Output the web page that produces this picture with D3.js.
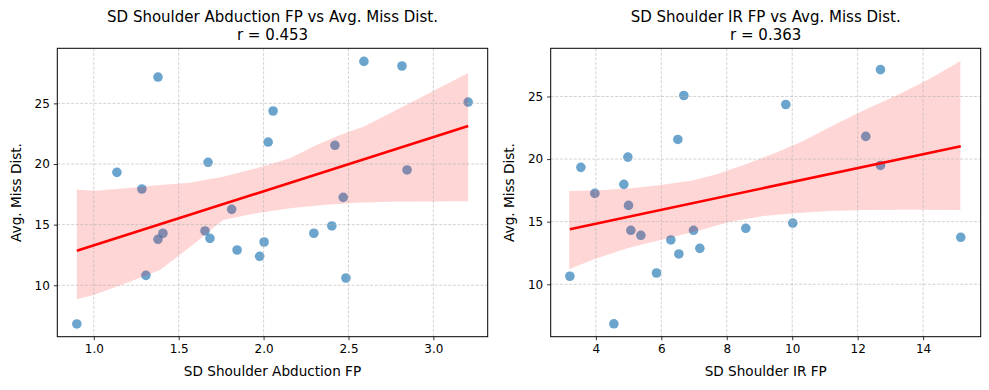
<!DOCTYPE html>
<html>
<head>
<meta charset="utf-8">
<script src="https://cdn.jsdelivr.net/npm/d3@7/dist/d3.min.js"></script>
<style>
  body { margin: 0; background: #fff; }
  svg text { font-family: "DejaVu Sans", sans-serif; fill: #000; }
</style>
</head>
<body>
<svg id="chart" width="989" height="390"></svg>
<script>
// left panel: SD Shoulder Abduction FP
const abdX = [0.90, 1.136, 1.283, 1.307, 1.378, 1.378, 1.407, 1.655, 1.673, 1.684, 1.812, 1.844, 1.977,
              2.003, 2.027, 2.056, 2.296, 2.402, 2.420, 2.469, 2.485, 2.591, 2.815, 2.845, 3.205];
const abdY = [6.81, 19.31, 17.94, 10.82, 27.17, 13.79, 14.29, 14.48, 20.14, 13.87, 16.26, 12.91, 12.39,
              13.57, 21.81, 24.37, 14.29, 14.89, 21.54, 17.25, 10.60, 28.46, 28.08, 19.51, 25.11];
// confidence band edges
const abdBandUpX = [0.90, 1.0, 1.19, 1.39, 1.565, 1.761, 1.958, 2.155, 2.312, 2.45, 2.587, 2.745, 3.205];
const abdBandUp  = [17.9, 17.8, 18.0, 18.27, 18.46, 18.95, 19.65, 20.47, 21.57, 22.39, 23.07, 24.18, 27.5];
const abdBandLoX = [0.90, 1.0, 1.19, 1.39, 1.59, 1.761, 1.958, 2.155, 2.351, 2.548, 2.745, 3.205];
const abdBandLo  = [8.85, 9.2, 10.16, 11.26, 13.4, 15.38, 15.94, 16.35, 16.62, 16.81, 16.89, 16.92];

// right panel: SD Shoulder IR FP
const irX = [3.206, 3.542, 3.969, 4.55, 4.855, 4.978, 4.998, 5.069, 5.375, 5.853, 6.291, 6.505,
             6.536, 6.688, 6.984, 7.177, 8.582, 9.804, 10.018, 12.248, 12.697, 12.697, 15.151];
const irY = [10.64, 19.34, 17.26, 6.84, 17.98, 20.16, 16.30, 14.31, 13.91, 10.90, 13.54, 21.57,
             12.42, 25.08, 14.31, 12.87, 14.47, 24.36, 14.89, 21.81, 27.15, 19.49, 13.75];
const irBandUpX = [3.185, 4.04, 5.0, 5.98, 7.0, 7.71, 8.6, 9.5, 10.3, 11.17, 12.19, 13.2, 14.22, 15.14];
const irBandUp  = [17.45, 17.5, 17.65, 17.93, 18.3, 18.8, 19.6, 20.5, 21.4, 22.58, 23.9, 25.1, 26.44, 27.84];
const irBandLoX = [3.185, 3.94, 4.96, 5.98, 7.2, 8.11, 9.13, 10.15, 11.17, 12.19, 13.5, 15.14];
const irBandLo  = [11.2, 12.0, 12.87, 13.54, 14.34, 15.0, 15.45, 15.7, 15.85, 15.93, 15.95, 15.93];

const titles = ["SD Shoulder Abduction FP vs Avg. Miss Dist.", "SD Shoulder IR FP vs Avg. Miss Dist."];
const rLabels = ["r = 0.453", "r = 0.363"];
const xLabels = ["SD Shoulder Abduction FP", "SD Shoulder IR FP"];
const yLabel = "Avg. Miss Dist.";
const abdTicks = [1.0, 1.5, 2.0, 2.5, 3.0];
const irTicks = [4, 6, 8, 10, 12, 14];
const yTicks = [10, 15, 20, 25];

const svg = d3.select("#chart");

const panels = [
  {x: abdX, y: abdY, upX: abdBandUpX, up: abdBandUp, loX: abdBandLoX, lo: abdBandLo,
   left: 57.3, right: 487.7, xDom: [0.785, 3.32], yDom: [5.76, 29.54],
   xTicks: abdTicks, fmt: d3.format(".1f"), ylabX: 16},
  {x: irX, y: irY, upX: irBandUpX, up: irBandUp, loX: irBandLoX, lo: irBandLo,
   left: 550.7, right: 980.7, xDom: [2.62, 15.76], yDom: [5.81, 28.85],
   xTicks: irTicks, fmt: d3.format("d"), ylabX: 509}
];
const plotTop = 48.3, plotBottom = 336.7;

panels.forEach((p, i) => {
  const x = d3.scaleLinear().domain(p.xDom).range([p.left, p.right]);
  const y = d3.scaleLinear().domain(p.yDom).range([plotBottom, plotTop]);
  const g = svg.append("g");

  // points
  g.selectAll(".pt").data(p.x).enter().append("circle")
    .attr("cx", d => x(d))
    .attr("cy", (d, j) => y(p.y[j]))
    .attr("r", 4.8)
    .attr("fill", "#1f77b4")
    .attr("fill-opacity", 0.66);

  // band polygon: upper edge left->right, lower edge right->left
  const poly = p.upX.map((d, j) => [x(d), y(p.up[j])])
    .concat(p.loX.map((d, j) => [x(d), y(p.lo[j])]).reverse());
  g.append("path")
    .attr("d", "M" + poly.join("L") + "Z")
    .attr("fill", "#ff0000")
    .attr("fill-opacity", 0.16);

  // grid
  const grid = g.append("g").attr("stroke", "#b0b0b0").attr("stroke-opacity", 0.7)
    .attr("stroke-width", 0.8).attr("stroke-dasharray", "3,1.6");
  p.xTicks.forEach(t => grid.append("line").attr("x1", x(t)).attr("x2", x(t)).attr("y1", plotTop).attr("y2", plotBottom));
  yTicks.forEach(t => grid.append("line").attr("x1", p.left).attr("x2", p.right).attr("y1", y(t)).attr("y2", y(t)));

  // least squares fit
  const mx = d3.mean(p.x), my = d3.mean(p.y);
  let sxy = 0, sxx = 0;
  p.x.forEach((d, j) => { sxy += (d - mx) * (p.y[j] - my); sxx += (d - mx) * (d - mx); });
  const b = sxy / sxx, a = my - b * mx;
  const ext = d3.extent(p.x);
  g.append("line")
    .attr("x1", x(ext[0])).attr("y1", y(a + b * ext[0]))
    .attr("x2", x(ext[1])).attr("y2", y(a + b * ext[1]))
    .attr("stroke", "#ff0000").attr("stroke-width", 2.6);

  // axes
  const xAxis = d3.axisBottom(x).tickValues(p.xTicks).tickFormat(p.fmt).tickSize(3.5).tickPadding(4);
  const yAxis = d3.axisLeft(y).tickValues(yTicks).tickSize(3.5).tickPadding(4);
  g.append("g").attr("transform", "translate(0," + plotBottom + ")").call(xAxis)
    .call(s => s.select(".domain").remove());
  g.append("g").attr("transform", "translate(" + p.left + ",0)").call(yAxis)
    .call(s => s.select(".domain").remove());
  g.selectAll(".tick text").attr("font-size", "12px").attr("font-family", "DejaVu Sans, sans-serif").attr("fill", "#000");
  g.selectAll(".tick line").attr("stroke", "#000").attr("stroke-width", 0.8);

  g.append("rect")
    .attr("x", p.left).attr("y", plotTop)
    .attr("width", p.right - p.left).attr("height", plotBottom - plotTop)
    .attr("fill", "none").attr("stroke", "#000").attr("stroke-width", 1);

  const cx = (p.left + p.right) / 2;
  g.append("text").attr("x", cx).attr("y", 22).attr("text-anchor", "middle")
    .attr("font-size", "15px").text(titles[i]);
  g.append("text").attr("x", cx).attr("y", 39.5).attr("text-anchor", "middle")
    .attr("font-size", "15px").text(rLabels[i]);
  g.append("text").attr("x", cx).attr("y", 376).attr("text-anchor", "middle")
    .attr("font-size", "13.6px").text(xLabels[i]);
  g.append("text")
    .attr("transform", "translate(" + p.ylabX + "," + ((plotTop + plotBottom) / 2) + ") rotate(-90)")
    .attr("text-anchor", "middle").attr("dominant-baseline", "central")
    .attr("font-size", "13.6px").text(yLabel);
});
</script>
</body>
</html>
